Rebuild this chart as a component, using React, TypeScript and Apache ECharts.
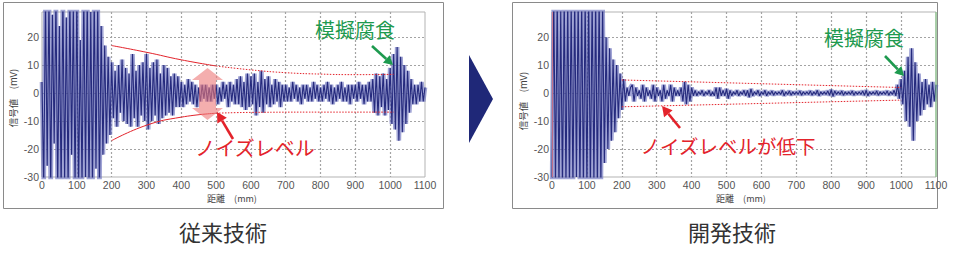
import React, { useEffect, useRef } from "react";
import * as echarts from "echarts";

// ---- data ----
const SAMPLE_STEP_MM = 5; // one reading every 5 mm, 0..1100 mm
const xTicks = [0, 100, 200, 300, 400, 500, 600, 700, 800, 900, 1000, 1100];
const yTicks = [-30, -20, -10, 0, 10, 20];

// 従来技術 (conventional) signal, mV
const conventionalSignal = [
  4, -33, 34, -26, 35, -34, 28, -18, 34, -35, 24, -35, 35, -31, 27, -35, 35, -22, 31, -34,
  35, -35, 19, -33, 35, -30, 35, -35, 29, -34, 35, -27, 33, -35, 24, -22, 17, -18, 13, -15,
  11, -9, 8, -12, 10, -7, 12, -10, 9, -11, 7, -12, 14, -9, 8, -12, 10, -8, 11, -10,
  14, -13, 9, -10, 11, -8, 12, -11, 7, -9, 10, -8, 9, -7, 6, -8, 7, -5, 6, -5,
  4, -5, 3, -4, 5, -3, 4, -4, 3, -5, 2, -3, 3, -2, 3, -3, 2, -3, 3, -2,
  3, -4, 2, -3, 4, -2, 3, -5, 4, -3, 3, -4, 5, -4, 6, -5, 4, -6, 7, -5,
  6, -4, 7, -8, 4, -5, 8, -7, 5, -4, 6, -5, 3, -4, 5, -3, 4, -5, 3, -3,
  3, -3, 2, -3, 4, -2, 3, -3, 2, -4, 3, -2, 3, -3, 2, -3, 4, -2, 3, -3,
  2, -3, 3, -2, 4, -3, 3, -4, 2, -3, 3, -2, 4, -3, 2, -3, 3, -4, 3, -2,
  3, -3, 4, -2, 3, -4, 3, -3, 4, -3, 5, -7, 7, -8, 6, -5, 7, -8, 5, -6,
  9, -11, 14, -13, 16.5, -17, 13, -14, 10, -11, 8, -7, 5, -4, 3, -4, 3, -3, 4, -3,
  2,
];

// 開発技術 (developed) signal, mV
const developedSignal = [
  -35, 35, -33, 35, -35, 30, -35, 35, -34, 35, -35, 33, -35, 35, -30, 35, -35, 34, -35, 35,
  -35, 35, -35, 35, -33, 35, -35, 35, -33, 32, -25, 20, -20, 16, -17, 12, -14, 10, -9, 7,
  -6, 5, -3, 2, -1, 2, 3, -3, 2, -1, 1, -2, 3, -3, 2, -1, 1, -2, 3, -3,
  2, -1, 1, -3, 3, -2, 1, -1, 3, -3, 2, -1, 1, -1, 2, -3, 4, -4, 3, -3,
  2, -1, 1, -1, 0.5, -0.5, 1, -1, 0.5, -0.5, 1, -1, 0.5, -1, 2, -2, 2, -1, 1, -1,
  1.5, -2, 1, -1, 0.5, -0.5, 1, -1, 0.5, -0.5, 1, -1, 1, -1.5, 1.5, -1, 0.5, -0.5, 1, -1,
  0.5, -0.5, 1, -1, 0.5, -0.5, 0.8, -0.8, 0.5, -0.5, 0.5, -0.5, 1, -1, 0.5, -0.5, 0.8, -0.8, 0.5, -0.5,
  0.5, -0.5, 0.8, -0.8, 0.5, -0.5, 0.5, -0.5, 0.8, -0.8, 0.5, -0.5, 1, -1, 0.5, -0.5, 0.5, -0.5, 0.8, -0.8,
  1.2, -1.2, 0.8, -0.5, 0.5, -0.5, 0.8, -0.8, 0.5, -0.5, 0.5, -0.5, 0.8, -0.8, 0.5, -0.5, 0.5, -0.5, 0.8, -0.8,
  1, -1, 0.5, -0.5, 0.5, -0.5, 0.8, -0.8, 0.5, -0.5, 0.5, -0.5, 0.8, -0.8, 0.5, -0.5, 1, -1, 3, -2,
  5, -4, 8, -10, 13, -12, 16, -17, 11, -10, 7, -8, 4, -6, 5, -4, 3, -5, 4, -3,
  3,
];

// noise-level guide lines [mm, mV]
const convUpperSolid = [[200, 17], [300, 14.6], [400, 11.9], [500, 9.7]];
const convUpperDotted = [[500, 9.7], [600, 8.3], [700, 7.3], [800, 6.8], [900, 6.6], [1010, 6.7]];
const convLowerSolid = [[200, -17], [300, -11.5], [400, -8.6], [500, -7.2]];
const convLowerDotted = [[500, -7.2], [600, -6.9], [800, -6.8], [1010, -6.8]];
const devUpper = [[200, 4.7], [1000, 2.0]];
const devLower = [[200, -4.9], [1000, -2.5]];

const panelTitles = ["従来技術", "開発技術"];
const noiseTexts = ["ノイズレベル", "ノイズレベルが低下"];
const corrosionText = "模擬腐食";
const xName = "距離　(mm)";
const yName = "信号値　(mV)";

const toPoints = (arr: number[]) => arr.map((v, i) => [i * SAMPLE_STEP_MM, v]);

const RED = "#e3232b";
const GREEN = "#1e9a4f";
const NAVY = "#252a7d";

function arrow(x1: number, y1: number, x2: number, y2: number, color: string, w: number, headLen: number, headHalf: number) {
  const dx = x2 - x1, dy = y2 - y1;
  const len = Math.hypot(dx, dy);
  const ux = dx / len, uy = dy / len;
  const bx = x2 - ux * headLen, by = y2 - uy * headLen;
  const px = -uy, py = ux;
  return [
    { type: "line", z: 20, shape: { x1, y1, x2: bx, y2: by }, style: { stroke: color, lineWidth: w } },
    {
      type: "polygon", z: 20,
      shape: { points: [[x2, y2], [bx + px * headHalf, by + py * headHalf], [bx - px * headHalf, by - py * headHalf]] },
      style: { fill: color },
    },
  ];
}

export default function App() {
  const ref = useRef<HTMLDivElement>(null);
  useEffect(() => {
    if (!ref.current) return;
    const chart = echarts.init(ref.current, null, { renderer: "svg" });
    const grids = [
      { left: 42, top: 12, width: 383, height: 165 },
      { left: 552, top: 12, width: 384, height: 165 },
    ];
    const axisFont = { fontSize: 10.5, color: "#555", fontFamily: "Liberation Sans, Arial, sans-serif" };
    const split = { show: true, showMinLine: false, showMaxLine: false, lineStyle: { color: "#a3a3a3", width: 1.2, type: [2, 2] } };
    const xAxes = grids.map((_, i) => ({
      type: "value", gridIndex: i, min: 0, max: 1100, interval: 100,
      axisLine: { show: false }, axisTick: { show: false },
      axisLabel: { ...axisFont, margin: 2, formatter: (v: number) => (xTicks.includes(v) ? String(v) : "") },
      splitLine: split,
    }));
    const yAxes = grids.map((_, i) => ({
      type: "value", gridIndex: i, min: -30, max: 29, interval: 10,
      axisLine: { show: false }, axisTick: { show: false },
      axisLabel: { ...axisFont, margin: 3, showMaxLabel: false, formatter: (v: number) => (yTicks.includes(v) ? String(v) : "") },
      splitLine: split,
    }));
    const wave = (data: number[], idx: number) => [
      {
        type: "line", xAxisIndex: idx, yAxisIndex: idx, data: toPoints(data), showSymbol: false, silent: true, clip: true, z: 3,
        lineStyle: { color: "rgba(102,108,188,0.62)", width: 4.6 },
      },
      {
        type: "line", xAxisIndex: idx, yAxisIndex: idx, data: toPoints(data), showSymbol: false, silent: true, clip: true, z: 4,
        lineStyle: { color: NAVY, width: 1.1 },
      },
    ];
    const guide = (data: number[][], idx: number, dotted: boolean, smooth: boolean) => ({
      type: "line", xAxisIndex: idx, yAxisIndex: idx, data, showSymbol: false, silent: true, smooth, z: 6,
      lineStyle: { color: RED, width: 1, type: dotted ? [1.5, 1.5] : "solid" },
    });
    const titleFont = "Noto Sans CJK JP";
    const graphic: any[] = [
      // panel frames
      { type: "rect", z: -1, shape: { x: 3.5, y: 2.5, width: 440, height: 206 }, style: { fill: "none", stroke: "#8a8a8a", lineWidth: 1 } },
      { type: "rect", z: -1, shape: { x: 512.5, y: 2.5, width: 425, height: 206 }, style: { fill: "none", stroke: "#8a8a8a", lineWidth: 1 } },
      // right panel edge marks
      { type: "line", z: 8, shape: { x1: 552.5, y1: 12, x2: 552.5, y2: 177 }, style: { stroke: "#e07a88", lineWidth: 0.8 } },
      { type: "line", z: 8, shape: { x1: 936, y1: 12, x2: 936, y2: 177 }, style: { stroke: "#78c478", lineWidth: 1 } },
      // chevron between panels
      { type: "polygon", shape: { points: [[469, 55], [493, 99], [469, 143]] }, style: { fill: "#1f2878" } },
      // pink double arrow (noise level)
      {
        type: "polygon", z: 10,
        shape: { points: [[207.5, 68], [223, 80], [216, 80], [216, 108], [223, 108], [207.5, 120], [192, 108], [199, 108], [199, 80], [192, 80]] },
        style: { fill: "rgba(236,120,120,0.6)" },
      },
      ...arrow(233, 139, 217, 112, RED, 2.6, 10, 5.5),
      ...arrow(680, 128, 662, 106, RED, 2.6, 10, 5.5),
      ...arrow(372, 46, 393, 65, GREEN, 2.6, 9, 5),
      ...arrow(885, 56, 904, 76, GREEN, 2.6, 9, 5),
      // annotation texts
      { type: "text", z: 20, style: { text: noiseTexts[0], x: 255, y: 147, fill: RED, fontSize: 20, fontFamily: titleFont, align: "center", verticalAlign: "middle" } },
      { type: "text", z: 20, style: { text: noiseTexts[1], x: 728, y: 145, fill: RED, fontSize: 19.5, fontFamily: titleFont, align: "center", verticalAlign: "middle" } },
      { type: "text", z: 20, style: { text: corrosionText, x: 355, y: 29, fill: GREEN, fontSize: 20, fontFamily: titleFont, align: "center", verticalAlign: "middle" } },
      { type: "text", z: 20, style: { text: corrosionText, x: 864, y: 37, fill: GREEN, fontSize: 20, fontFamily: titleFont, align: "center", verticalAlign: "middle" } },
      // panel titles
      { type: "text", style: { text: panelTitles[0], x: 223, y: 231, fill: "#333", fontSize: 22, fontFamily: titleFont, align: "center", verticalAlign: "middle" } },
      { type: "text", style: { text: panelTitles[1], x: 732, y: 231, fill: "#333", fontSize: 22, fontFamily: titleFont, align: "center", verticalAlign: "middle" } },
      // axis names
      { type: "text", style: { text: xName, x: 232, y: 198.5, fill: "#444", fontSize: 9, fontFamily: titleFont, align: "center", verticalAlign: "middle" } },
      { type: "text", style: { text: xName, x: 741, y: 198.5, fill: "#444", fontSize: 9, fontFamily: titleFont, align: "center", verticalAlign: "middle" } },
      { type: "text", x: 13, y: 98, rotation: Math.PI / 2, style: { text: yName, x: 0, y: 0, fill: "#444", fontSize: 9.5, fontFamily: titleFont, align: "center", verticalAlign: "middle" } },
      { type: "text", x: 523, y: 101, rotation: Math.PI / 2, style: { text: yName, x: 0, y: 0, fill: "#444", fontSize: 9.5, fontFamily: titleFont, align: "center", verticalAlign: "middle" } },
    ];
    chart.setOption({
      animation: false,
      grid: grids.map((g) => ({ ...g, show: true, borderColor: "#b3b3b3", borderWidth: 1, backgroundColor: "#fff" })),
      xAxis: xAxes,
      yAxis: yAxes,
      series: [
        ...wave(conventionalSignal, 0),
        guide(convUpperSolid, 0, false, true),
        guide(convUpperDotted, 0, true, true),
        guide(convLowerSolid, 0, false, true),
        guide(convLowerDotted, 0, true, true),
        ...wave(developedSignal, 1),
        guide(devUpper, 1, true, false),
        guide(devLower, 1, true, false),
      ],
      graphic,
    } as any);
    return () => chart.dispose();
  }, []);
  return (
    <div
      ref={ref}
      style={{ position: "absolute", left: 0, top: 0, width: 955, height: 262, background: "#fff" }}
    />
  );
}
